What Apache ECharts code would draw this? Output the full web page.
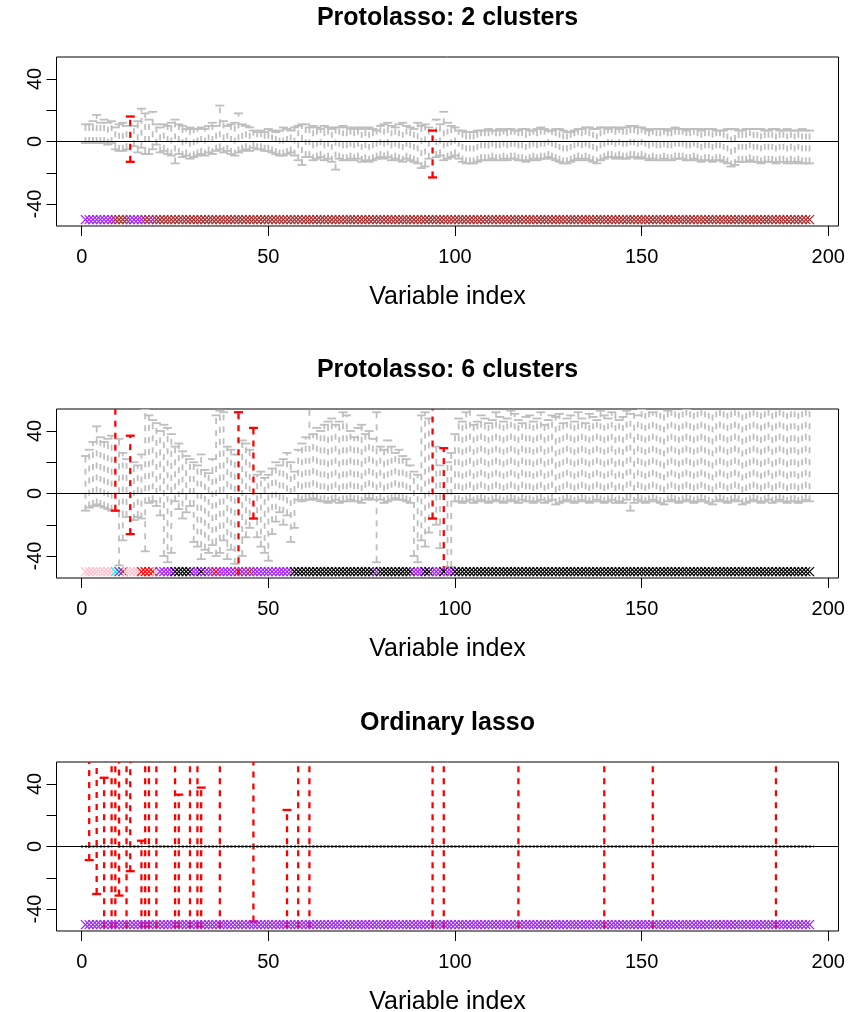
<!DOCTYPE html>
<html><head><meta charset="utf-8">
<script src="https://cdn.jsdelivr.net/npm/echarts@6/dist/echarts.min.js"></script>
<style>html,body{margin:0;padding:0;background:#fff}#c{width:854px;height:1012px}</style>
</head><body><div id="c"></div>
<script>
// ---------------- data ----------------
const titles = ['Protolasso: 2 clusters', 'Protolasso: 6 clusters', 'Ordinary lasso'];
const xLabel = 'Variable index';
const nVars = 195;
const xTicks = [0, 50, 100, 150, 200];
const yTicks = [-40, -20, 0, 20, 40];
const yLabels = [-40, 0, 40];
const stripLevel = -50;

// Panel 1 (2 clusters) interval bounds, variables 1..195
const p1Hi = [11,11,13,17,12,14,12,13, 9,11,12,10, 16, 10,13,21,18,14,19,11,
  9,11,10,12,14,11,10,8,9,8, 8,9,8,10,12,10,23,13,10,11,12,18,11,10,9,
  7,6,7,6,8,7,6,7,9,8,7,9,10,11,11, 9,10,9,8,10,9,8,9,9,10,9,8,9,8,9,
  8,9,8,7,10,11,12,10,9,11,12,10,9,8,12,10,11,9, 7, 14,11,19,12,10,9,
  7,7,6,6,6,7,7,7,8,7, 7,8,7,8,8,7,7,8,8,7, 7,8,9,8,7,7,8,8,7,6,
  6,7,8,8,9,9,8,8,9,9, 8,9,9,8,9,9,10,10,9,9, 8,7,8,8,8,8,7,8,9,8,
  8,7,8,8,8,7,8,8,8,7, 7,7,8,8,8,7,7,8,8,8, 8,8,7,7,8,8,7,7,8,7, 7,7,8,7,7];
const p1Lo = [-1,-1,-1,-1,-1,-1,-2,-1, -5,-6,-6,-5, -13, -3,-7,-4,-8,-8,-5,-2,
  -7,-6,-8,-9,-14,-8,-10,-9,-11,-10, -9,-8,-9,-7,-8,-6,-5,-7,-6,-8,-9,-7,-6,-5,-6,
  -4,-5,-5,-6,-6,-7,-8,-9,-9,-8,-7,-9,-12,-15,-10, -10,-12,-11,-10,-12,-11,-13,-18,-11,-12,-12,-11,-12,-11,-13,
  -12,-13,-12,-11,-10,-11,-10,-12,-11,-12,-13,-11,-12,-13,-14,-17,-16,-11, -23, -10,-9,-12,-11,-10,-9,
  -11,-13,-14,-14,-14,-13,-12,-12,-12,-11, -12,-12,-11,-12,-11,-11,-12,-12,-13,-12,
  -11,-12,-11,-11,-10,-11,-12,-13,-14,-14, -13,-12,-11,-12,-11,-12,-13,-14,-12,-11,
  -10,-10,-11,-10,-11,-11,-10,-10,-11,-10, -11,-12,-11,-12,-12,-11,-12,-12,-11,-11,
  -11,-12,-12,-11,-12,-13,-12,-12,-13,-12, -12,-13,-14,-16,-15,-13,-13,-13,-12,-13,
  -13,-14,-13,-13,-13,-14,-13,-13,-14,-13, -14,-13,-14,-14,-14];
const p1Red = [13, 94];
const p1Clusters = [[1,8,'purple'],[9,12,'brown'],[13,16,'purple'],[17,18,'brown'],[19,19,'purple'],[20,195,'brown']];

// Panel 2 (6 clusters)
const p2Hi = [24,28,33,43,36,33,35,37, 60, 35,26,22,37,20,18,25,54,50,47,45,
  40,44,42,38,30,32,27,24,22,20, 18,25,15,13,22,50,53,52,30,28,25,
  52,34,32,28,42,12,14,10,12, 16,20,18,22,26,20,14,
  28,32,36,58,38,42,40,44,46,48,44,46,52,50,40,36,42,44,38,40,35,
  52,30,28,34,30,26,28,24,22,18, 14,12,50,52,48,58,30,18,29,20,26,38,
  48,46,52,55,44,46,50,48,45,47, 52,49,46,48,53,51,47,45,49,50,
  46,48,52,44,47,50,49,51,45,48, 50,46,52,48,45,51,49,47,53,50,
  48,52,55,47,49,53,51,56,50,54, 56,58,52,57,55,59,53,56,58,55,
  57,54,58,56,59,55,57,58,56,59, 58,56,59,57,58,60,57,59,58,56,
  59,57,58,60,58,57,59,58,60,57, 58,59,57,58,59];
const p2Lo = [-11,-9,-8,-7,-8,-9,-10,-11, -11, -46,-30,-15,-26,-17,-15,-16,-37,-6,-5,-8,
  -14,-40,-44,-38,-5,-10,-16,-12,-8,-31, -34,-42,-36,-38,-33,-40,-38,-30,-42,-36,-45,
  -60,-40,-28,-22,-16,-28,-34,-38,-43, -26,-18,-12,-20,-14,-31,-22,
  -4,-5,-4,-4,-3,-4,-5,-5,-6,-5,-4,-6,-5,-5,-4,-5,-5,-6,-4,-3,-4,
  -44,-4,-6,-5,-4,-3,-4,-4,-5,-6, -40,-44,-30,-34,-25,-16,-20,-35,-58,-47,-47,-5,
  -5,-6,-5,-4,-6,-5,-4,-5,-6,-5, -4,-5,-6,-5,-4,-5,-6,-4,-5,-5,
  -6,-5,-4,-6,-5,-4,-7,-6,-5,-4, -5,-6,-5,-4,-5,-6,-5,-4,-5,-6,
  -5,-4,-6,-5,-6,-4,-11,-6,-4,-5, -6,-5,-4,-5,-6,-7,-5,-4,-5,-6,
  -5,-4,-5,-6,-5,-4,-5,-6,-7,-5, -4,-5,-6,-5,-4,-5,-7,-6,-5,-4,
  -5,-6,-5,-4,-6,-5,-4,-5,-6,-5, -5,-6,-5,-4,-5];
const p2Red = [9, 13, 42, 46, 94, 97];
const p2Clusters = [[1,8,'pink'],[9,9,'cyan'],[10,10,'purple'],[11,11,'brown'],[12,15,'pink'],[16,19,'red'],[20,20,'pink'],
  [21,24,'purple'],[25,29,'black'],[30,31,'purple'],[32,32,'black'],[33,35,'purple'],[36,36,'red'],[37,41,'purple'],
  [42,42,'red'],[43,44,'purple'],[45,45,'brown'],[46,56,'purple'],[57,78,'black'],[79,79,'purple'],[80,88,'black'],
  [89,91,'purple'],[92,93,'black'],[94,96,'purple'],[97,97,'black'],[98,99,'purple'],[100,195,'black']];

// Panel 3 (ordinary lasso): selected variables with their bounds (others are zero)
const p3Sel = [2,4,6,8,9,10,12,13,16,17,18,20,25,26,29,31,32,37,46,55,58,61,94,97,117,140,153,186];
const p3Hi  = [60,60,44,60,60,60,60,60,3.7,60,60,60,60,33.2,60,60,37.7,60,60,23.4,60,60,60,60,60,60,60,60];
const p3Lo  = [-8.7,-30.4,-60,-60,-60,-31.4,-60,-15.8,-60,-60,-60,-60,-60,-60,-60,-60,-60,-60,-48,-60,-60,-60,-60,-60,-60,-60,-60,-60];
const p3Clusters = [[1,195,'purple']];

const colorMap = {purple:'#A020F0', brown:'#A52A2A', pink:'#FFC0CB', cyan:'#00FFFF', red:'#FF0000', black:'#000000'};
const colorNames = Object.keys(colorMap);

// ---------------- build ----------------
const FF = '"Liberation Sans", Arial, Helvetica, sans-serif';
const FS = 20, FSLAB = 25;
const gridTops = [57, 409, 762];
const gridH = 169, gridL = 56.5, gridW = 782;
const xMin = -6.76, xMax = 202.76, yMin = -54.08, yMax = 54.08;

function barData(hi, lo, red, wantRed) {
  const out = [];
  for (let v = 1; v <= nVars; v++) {
    const isRed = red.indexOf(v) >= 0;
    if (isRed === wantRed) out.push([v, lo[v-1], hi[v-1], isRed ? 1 : 0]);
  }
  return out;
}
function p3Data(wantRed) {
  const out = [];
  for (let v = 1; v <= nVars; v++) {
    const k = p3Sel.indexOf(v);
    if (k >= 0 && wantRed) out.push([v, p3Lo[k], p3Hi[k], 1]);
    if (k < 0 && !wantRed) out.push([v, 0, 0, 0]);
  }
  return out;
}
function stripData(runs) {
  const out = [];
  runs.forEach(r => { for (let v = r[0]; v <= r[1]; v++) out.push([v, stripLevel, colorNames.indexOf(r[2])]); });
  out.sort((a,b) => a[0]-b[0]);
  return out;
}

function barItem(params, api) {
  const v = api.value(0), lo = api.value(1), hi = api.value(2), red = api.value(3) === 1;
  const a = api.coord([v, lo]), b = api.coord([v, hi]);
  const color = red ? '#FF0000' : '#BEBEBE';
  const lw = red ? 2.3 : 1.8;
  const hw = 4.5;
  const ch = [];
  if (lo === hi) {
    ch.push({type:'line', shape:{x1:a[0]-hw, y1:a[1], x2:a[0]+hw, y2:a[1]}, style:{stroke:'#808080', lineWidth:3, lineDash:[2,2]}});
  } else {
    ch.push({type:'line', shape:{x1:a[0], y1:a[1], x2:b[0], y2:b[1]}, style:{stroke:color, lineWidth:lw, lineDash:[6,6]}});
    ch.push({type:'line', shape:{x1:a[0]-hw, y1:a[1], x2:a[0]+hw, y2:a[1]}, style:{stroke:color, lineWidth:lw}});
    ch.push({type:'line', shape:{x1:b[0]-hw, y1:b[1], x2:b[0]+hw, y2:b[1]}, style:{stroke:color, lineWidth:lw}});
  }
  return {type:'group', children:ch};
}
function xItem(params, api) {
  const c = api.coord([api.value(0), api.value(1)]);
  const col = colorMap[colorNames[api.value(2)]];
  const s = 4.5;
  return {type:'group', children:[
    {type:'line', shape:{x1:c[0]-s, y1:c[1]-s, x2:c[0]+s, y2:c[1]+s}, style:{stroke:col, lineWidth:1.3}},
    {type:'line', shape:{x1:c[0]-s, y1:c[1]+s, x2:c[0]+s, y2:c[1]-s}, style:{stroke:col, lineWidth:1.3}}
  ]};
}
function zeroItem(params, api) {
  const cs = params.coordSys;
  const y = api.coord([0, 0])[1];
  return {type:'line', shape:{x1:cs.x, y1:y, x2:cs.x + cs.width, y2:y}, style:{stroke:'#000', lineWidth:1}};
}

const grids = [], xAxes = [], yAxes = [], series = [], graphics = [];
const panels = [
  {gray: barData(p1Hi, p1Lo, p1Red, false), red: barData(p1Hi, p1Lo, p1Red, true), strip: stripData(p1Clusters)},
  {gray: barData(p2Hi, p2Lo, p2Red, false), red: barData(p2Hi, p2Lo, p2Red, true), strip: stripData(p2Clusters)},
  {gray: p3Data(false), red: p3Data(true), strip: stripData(p3Clusters)}
];
panels.forEach((p, i) => {
  grids.push({left:gridL, top:gridTops[i], width:gridW, height:gridH, show:true, borderColor:'#000', borderWidth:1,
    backgroundColor:'transparent', containLabel:false, outerBoundsMode:'none'});
  xAxes.push({type:'value', gridIndex:i, min:xMin, max:xMax, position:'bottom', axisLine:{show:false, onZero:false}, splitLine:{show:false},
    axisTick:{show:true, customValues:xTicks, length:10, lineStyle:{color:'#000', width:1}},
    axisLabel:{show:true, customValues:xTicks, color:'#000', fontSize:FS, fontFamily:FF, margin:21},
    name:xLabel, nameLocation:'middle', nameGap:59, nameTextStyle:{color:'#000', fontSize:FSLAB, fontFamily:FF}});
  yAxes.push({type:'value', gridIndex:i, min:yMin, max:yMax, position:'left', axisLine:{show:false, onZero:false}, splitLine:{show:false},
    axisTick:{show:true, customValues:yTicks, length:10, lineStyle:{color:'#000', width:1}},
    axisLabel:{show:true, customValues:yLabels, rotate:90, color:'#000', fontSize:FS, fontFamily:FF, margin:11}});
  const common = {type:'custom', xAxisIndex:i, yAxisIndex:i, clip:true, silent:true, animation:false, encode:{x:0, y:1}};
  series.push(Object.assign({}, common, {data:p.gray, renderItem:barItem, z:2}));
  series.push(Object.assign({}, common, {data:p.red, renderItem:barItem, z:3}));
  series.push(Object.assign({}, common, {data:[[0,0]], renderItem:zeroItem, z:4}));
  series.push(Object.assign({}, common, {data:p.strip, renderItem:xItem, z:5}));
  graphics.push({type:'text', x:gridL + gridW/2, y:gridTops[i] - 39, style:{text:titles[i], fill:'#000', font:'bold 25px ' + FF, textAlign:'center', textVerticalAlign:'middle'}});
});

const chart = echarts.init(document.getElementById('c'), null, {renderer:'canvas'});
chart.setOption({animation:false, backgroundColor:'#fff', grid:grids, xAxis:xAxes, yAxis:yAxes, series:series, graphic:graphics});
</script></body></html>
